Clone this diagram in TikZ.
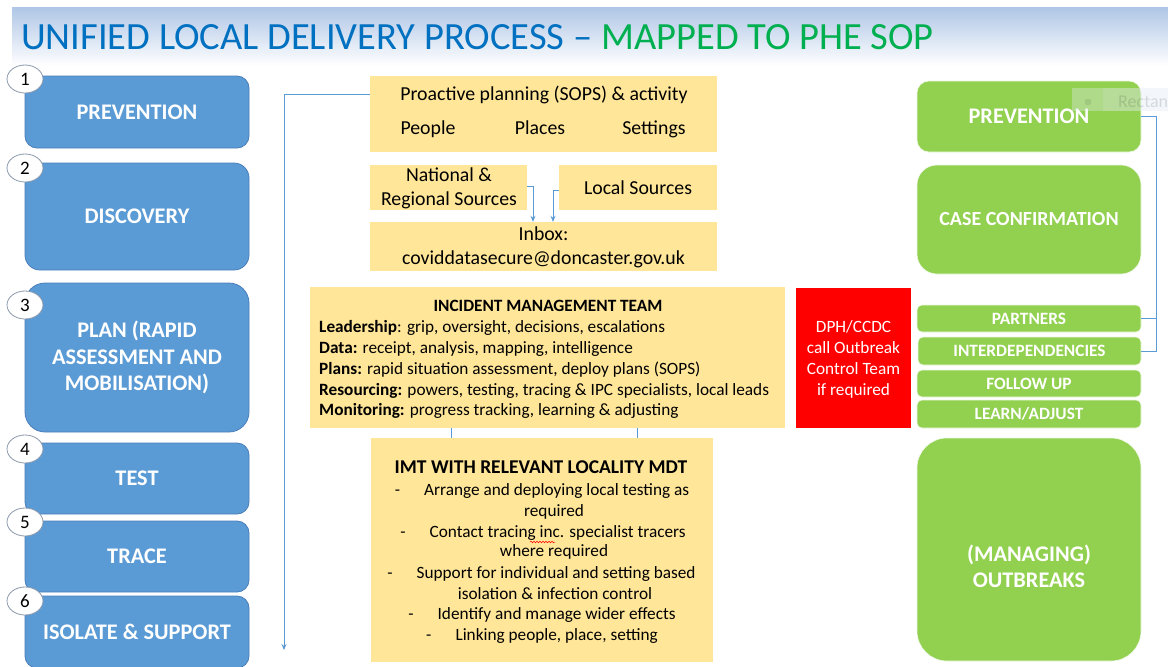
\documentclass[tikz,border=0pt]{standalone}
\usepackage{fontspec}
\setmainfont{Carlito}
\usetikzlibrary{arrows.meta,shapes.geometric,decorations.pathmorphing}
\definecolor{bluebox}{HTML}{5B9BD5}
\definecolor{blueedge}{HTML}{4A7EBB}
\definecolor{greenbox}{HTML}{92D050}
\definecolor{yellowbox}{HTML}{FFE699}
\definecolor{titleblue}{HTML}{0070C0}
\definecolor{titlegreen}{HTML}{00B050}
\definecolor{linkblue}{HTML}{5B9BD5}
\definecolor{redbox}{HTML}{FF0000}
\definecolor{gradtop}{HTML}{AFC6E6}
\definecolor{ringgray}{HTML}{8A98AC}
\definecolor{ghostfill}{HTML}{E6EEF8}
\begin{document}
\begin{tikzpicture}[x=1pt,y=-1pt,
  bluestep/.style={draw=blueedge,line width=0.8pt,fill=bluebox,rounded corners=12pt,inner sep=0pt,text=white,font=\fontsize{22.3}{26.5}\selectfont\bfseries,align=center},
  greenstep/.style={draw=white!85!greenbox,line width=0.6pt,fill=greenbox,rounded corners=12pt,inner sep=0pt,text=white,font=\fontsize{22.3}{26}\selectfont\bfseries,align=center},
  greensmall/.style={greenstep,rounded corners=5pt,font=\fontsize{17.3}{20}\selectfont\bfseries},
  ybox/.style={fill=yellowbox,inner sep=0pt},
  numring/.style={ellipse,draw=ringgray,line width=0.8pt,fill=white,minimum width=36pt,minimum height=28pt,inner sep=0pt,font=\fontsize{19}{21}\selectfont},
  txt/.style={inner sep=0pt,anchor=base,font=\fontsize{19.8}{22}\selectfont},
  itxt/.style={inner sep=0pt,anchor=base west,font=\fontsize{17.25}{20}\selectfont},
  mtxt/.style={inner sep=0pt,anchor=base,font=\fontsize{17.25}{20}\selectfont},
  rtxt/.style={inner sep=0pt,anchor=base,text=white,font=\fontsize{17.25}{20}\selectfont},
  link/.style={draw=linkblue,line width=0.9pt},
  tip/.style={-{Stealth[length=6pt,width=5pt]}}
]
\useasboundingbox (0,0) rectangle (1168,667);
\fill[white] (0,0) rectangle (1168,667);
% title band
\shade[top color=gradtop,bottom color=white] (12,7) rectangle (1168,66);
\node[inner sep=0pt,anchor=base west,font=\fontsize{38.5}{42}\selectfont] (title) at (21,49)
  {\textcolor{titleblue}{UNIFIED LOCAL DELIVERY PROCESS – }\textcolor{titlegreen}{MAPPED TO PHE SOP}};

% left blue column
\node[bluestep,minimum width=224pt,minimum height=72pt] (b1) at (137,112) {PREVENTION};
\node[bluestep,minimum width=224pt,minimum height=107pt,rounded corners=15pt] (b2) at (137,216.5) {DISCOVERY};
\node[bluestep,minimum width=224pt,minimum height=149pt,rounded corners=20pt] (b3) at (137,357.5) {PLAN (RAPID\\ASSESSMENT AND\\MOBILISATION)};
\node[bluestep,minimum width=224pt,minimum height=71pt] (b4) at (137,478.5) {TEST};
\node[bluestep,minimum width=224pt,minimum height=71pt] (b5) at (137,556.5) {TRACE};
\node[bluestep,minimum width=224pt,minimum height=72pt] (b6) at (137,632) {ISOLATE \& SUPPORT};
\node[numring] (n1) at (25,79) {1};
\node[numring] (n2) at (25,168) {2};
\node[numring] (n3) at (25,305) {3};
\node[numring] (n4) at (25,449) {4};
\node[numring] (n5) at (25,522) {5};
\node[numring] (n6) at (25,601) {6};

% yellow boxes
\node[ybox,minimum width=347pt,minimum height=76pt] (pro) at (543.5,114) {};
\node[txt] (prot) at (544,100.5) {Proactive planning (SOPS) \& activity};
\node[txt] (people) at (428,134) {People};
\node[txt] (places) at (540,134) {Places};
\node[txt] (settings) at (654,134) {Settings};
\node[ybox,minimum width=157pt,minimum height=45pt] (nat) at (448.5,187.5) {};
\node[txt] (natt1) at (449,181.5) {National \&};
\node[txt] (natt2) at (449,205) {Regional Sources};
\node[ybox,minimum width=158pt,minimum height=45pt] (loc) at (638,187.5) {};
\node[txt] (loct) at (638,194) {Local Sources};
\node[ybox,minimum width=347pt,minimum height=49pt] (inbox) at (543.5,246.5) {};
\node[txt] (inbt1) at (543.5,240.5) {Inbox:};
\node[txt] (inbt2) at (543.5,264) {coviddatasecure@doncaster.gov.uk};

\node[ybox,minimum width=475pt,minimum height=141pt] (imt) at (547.5,357.5) {};
\node[mtxt,font=\fontsize{17.25}{20}\selectfont\bfseries] (imtt) at (548,311) {INCIDENT MANAGEMENT TEAM};
\node[itxt] (l1) at (319,332.5) {\textbf{Leadership}: grip, oversight, decisions, escalations};
\node[itxt] (l2) at (319,353.5) {\textbf{Data:} receipt, analysis, mapping, intelligence};
\node[itxt] (l3) at (319,374.5) {\textbf{Plans:} rapid situation assessment, deploy plans (SOPS)};
\node[itxt] (l4) at (319,395.5) {\textbf{Resourcing:} powers, testing, tracing \& IPC specialists, local leads};
\node[itxt] (l5) at (319,415.5) {\textbf{Monitoring:} progress tracking, learning \& adjusting};

\node[fill=redbox,inner sep=0pt,minimum width=115pt,minimum height=140pt] (red) at (853.5,358) {};
\node[rtxt] (r1) at (853.5,332.5) {DPH/CCDC};
\node[rtxt] (r2) at (853.5,353.5) {call Outbreak};
\node[rtxt] (r3) at (853.5,374.5) {Control Team};
\node[rtxt] (r4) at (853.5,395.5) {if required};

\node[ybox,minimum width=342pt,minimum height=224pt] (mdt) at (542,550) {};
\node[mtxt,font=\fontsize{19.5}{22}\selectfont\bfseries] (mdtt) at (541,473.5) {IMT WITH RELEVANT LOCALITY MDT};
\node[mtxt] (m1) at (542,495.5) {-\hspace{24pt}Arrange and deploying local testing as};
\node[mtxt] (m1b) at (554,516.5) {required};
\node[mtxt] (m2) at (543,537.5) {-\hspace{24pt}Contact tracing inc. specialist tracers};
\node[mtxt] (m2b) at (554,556.5) {where required};
\node[mtxt] (m3) at (541.5,578.5) {-\hspace{24pt}Support for individual and setting based};
\node[mtxt] (m3b) at (555,599.5) {isolation \& infection control};
\node[mtxt] (m4) at (542,619.5) {-\hspace{24pt}Identify and manage wider effects};
\node[mtxt] (m5) at (542,640.5) {-\hspace{24pt}Linking people, place, setting};
\draw[red,line width=0.5pt,decorate,decoration={snake,amplitude=0.8pt,segment length=3pt}] (530,542) -- (555,542);

% right green column
\node[greenstep,minimum width=224pt,minimum height=71pt] (gp) at (1029,116.5) {PREVENTION};
\node[greenstep,minimum width=224pt,minimum height=109pt,rounded corners=20pt,font=\fontsize{20}{24}\selectfont\bfseries] (gc) at (1029,219.5) {CASE CONFIRMATION};
\node[greensmall,minimum width=224pt,minimum height=27pt] (part) at (1029,318.5) {PARTNERS};
\node[greensmall,minimum width=223pt,minimum height=28pt] (inter) at (1029.5,351) {INTERDEPENDENCIES};
\node[greensmall,minimum width=224pt,minimum height=27pt] (fol) at (1029,383.5) {FOLLOW UP};
\node[greensmall,minimum width=224pt,minimum height=28pt] (learn) at (1029,414) {LEARN/ADJUST};
\node[greenstep,minimum width=224pt,minimum height=223pt,rounded corners=30pt] (gout) at (1029,549.5) {};
\node[inner sep=0pt,text=white,align=center,font=\fontsize{22.3}{26}\selectfont\bfseries] (goutt) at (1029,566) {(MANAGING)\\OUTBREAKS};

% faint overlay label
\fill[ghostfill,opacity=0.35] (1072,88) rectangle (1168,111);
\fill[ghostfill,opacity=0.15] (1103,88) rectangle (1168,111);
\fill[black,opacity=0.08] (1088,102) circle (3.5pt);
\node[inner sep=0pt,anchor=base west,text=black,opacity=0.12,font=\fontsize{18}{20}\selectfont] (ghost) at (1118,107) {Rectan};

% connectors
\coordinate (arrowend) at (284,650);
\draw[link,tip] ([yshift=-19pt]pro.north west) -| (arrowend);
\draw[link,tip] ([yshift=-22pt]nat.north east) -| ([xshift=-10.5pt]inbox.north);
\draw[link,tip] ([yshift=-26pt]loc.north west) -| ([xshift=9.5pt]inbox.north);
\draw[link] ([xshift=-96.5pt]imt.south) -- ([xshift=-96.5pt]imt.south |- mdt.north);
\draw[link] ([xshift=89.5pt]imt.south) -- ([xshift=89.5pt]imt.south |- mdt.north);
\draw[link] (gp.east) -- ++(15,0) |- (inter.east);
\draw[link] (part.east) -- ++(15,0);
\end{tikzpicture}
\end{document}
